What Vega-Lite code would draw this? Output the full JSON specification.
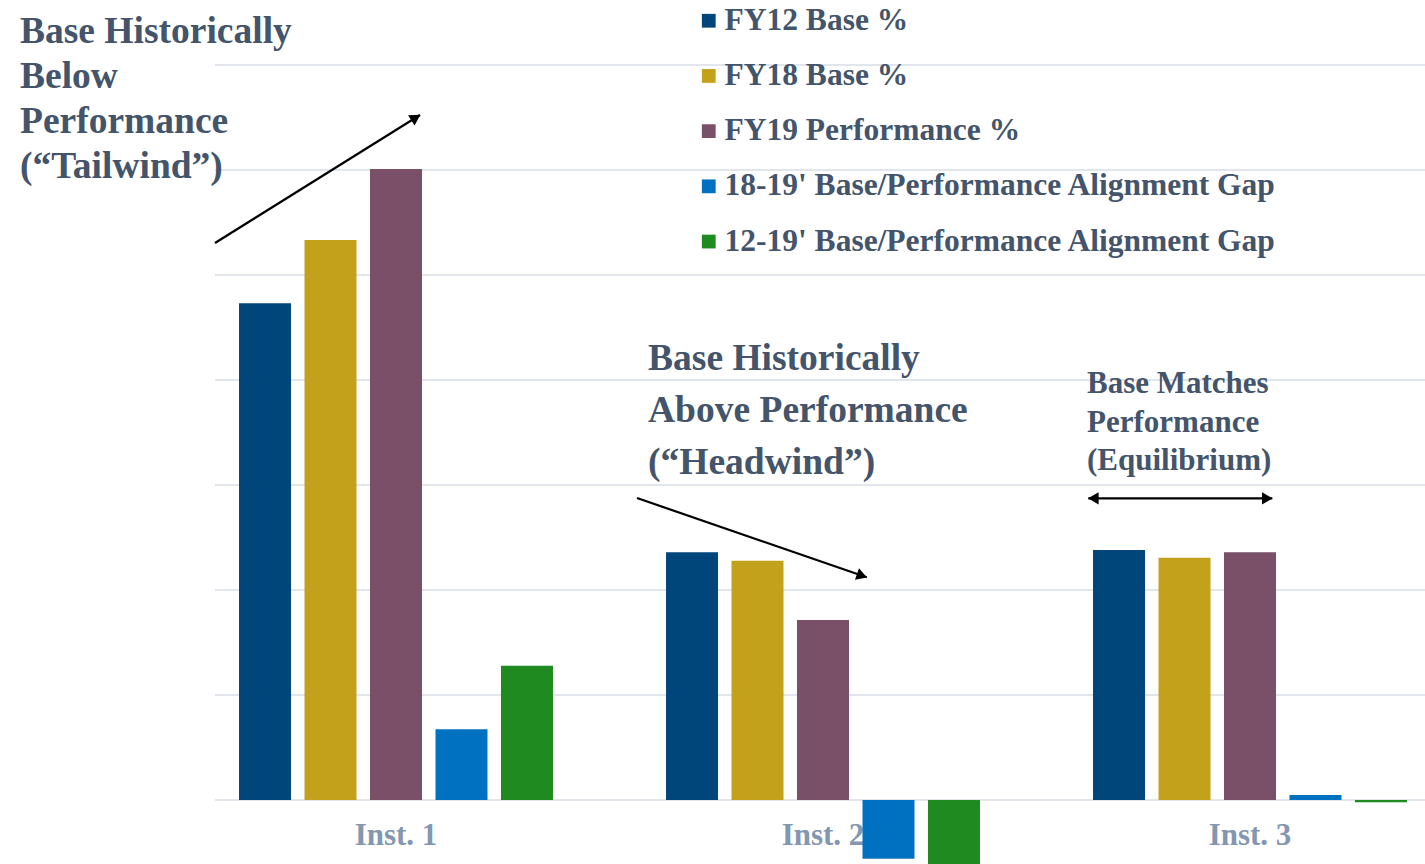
{
  "$schema": "https://vega.github.io/schema/vega-lite/v6.json",
  "width": 1210,
  "height": 864,
  "autosize": {"type": "none"},
  "padding": {"left": 215, "top": 0, "right": 0, "bottom": 0},
  "background": "white",
  "config": {
    "view": {"stroke": null},
    "font": "Liberation Serif",
    "legend": {
      "orient": "none",
      "legendX": 478,
      "legendY": 5,
      "padding": 0,
      "symbolType": "square",
      "symbolSize": 190,
      "symbolStrokeWidth": 0,
      "symbolOpacity": 1,
      "labelFont": "Liberation Serif",
      "labelFontWeight": "bold",
      "labelFontSize": 31.5,
      "labelColor": "#44546A",
      "labelOffset": 0,
      "labelLimit": 0,
      "rowPadding": 22.2,
      "title": null
    }
  },
  "datasets": {
    "bars": [
      {"inst": "Inst. 1", "series": "FY12 Base %", "value": 4.73},
      {"inst": "Inst. 1", "series": "FY18 Base %", "value": 5.333},
      {"inst": "Inst. 1", "series": "FY19 Performance %", "value": 6.01},
      {"inst": "Inst. 1", "series": "18-19' Base/Performance Alignment Gap", "value": 0.673},
      {"inst": "Inst. 1", "series": "12-19' Base/Performance Alignment Gap", "value": 1.279},
      {"inst": "Inst. 2", "series": "FY12 Base %", "value": 2.359},
      {"inst": "Inst. 2", "series": "FY18 Base %", "value": 2.279},
      {"inst": "Inst. 2", "series": "FY19 Performance %", "value": 1.714},
      {"inst": "Inst. 2", "series": "18-19' Base/Performance Alignment Gap", "value": -0.56},
      {"inst": "Inst. 2", "series": "12-19' Base/Performance Alignment Gap", "value": -0.645},
      {"inst": "Inst. 3", "series": "FY12 Base %", "value": 2.381},
      {"inst": "Inst. 3", "series": "FY18 Base %", "value": 2.308},
      {"inst": "Inst. 3", "series": "FY19 Performance %", "value": 2.359},
      {"inst": "Inst. 3", "series": "18-19' Base/Performance Alignment Gap", "value": 0.048},
      {"inst": "Inst. 3", "series": "12-19' Base/Performance Alignment Gap", "value": -0.022}
    ],
    "labels": [
      {"inst": "Inst. 1", "value": -0.343},
      {"inst": "Inst. 2", "value": -0.343},
      {"inst": "Inst. 3", "value": -0.343}
    ],
    "grid": [
      {"v": 0}, {"v": 1}, {"v": 2}, {"v": 3}, {"v": 4}, {"v": 5}, {"v": 6}, {"v": 7}
    ]
  },
  "resolve": {"scale": {"x": "independent"}},
  "layer": [
    {
      "data": {"name": "grid"},
      "mark": {"type": "rule", "color": "#E1E6EC", "strokeWidth": 2},
      "encoding": {
        "y": {"field": "v", "type": "quantitative", "axis": null, "scale": {"domain": [-0.6095, 7.619], "nice": false, "zero": false}}
      }
    },
    {
      "data": {"name": "labels"},
      "mark": {"type": "text", "fontSize": 31, "fontWeight": "bold", "font": "Liberation Serif", "color": "#8497B0", "baseline": "middle", "align": "center"},
      "encoding": {
        "x": {"field": "inst", "type": "nominal", "axis": null, "scale": {"domain": ["Inst. 1", "Inst. 2", "Inst. 3"], "range": [-32.5, 1248.5], "paddingInner": 0, "paddingOuter": 0}},
        "y": {"field": "value", "type": "quantitative", "axis": null, "scale": {"domain": [-0.6095, 7.619], "nice": false, "zero": false}},
        "text": {"field": "inst"}
      }
    },
    {
      "data": {"name": "bars"},
      "mark": {"type": "bar", "clip": true},
      "encoding": {
        "x": {"field": "inst", "type": "nominal", "axis": null, "scale": {"domain": ["Inst. 1", "Inst. 2", "Inst. 3"], "range": [-32.5, 1248.5], "paddingInner": 0, "paddingOuter": 0}},
        "xOffset": {"field": "series", "type": "nominal", "scale": {"domain": ["FY12 Base %", "FY18 Base %", "FY19 Performance %", "18-19' Base/Performance Alignment Gap", "12-19' Base/Performance Alignment Gap"], "paddingInner": 0.206, "paddingOuter": 0.863}},
        "y": {"field": "value", "type": "quantitative", "axis": null, "scale": {"domain": [-0.6095, 7.619], "nice": false, "zero": false}},
        "color": {"field": "series", "type": "nominal",
          "scale": {"domain": ["FY12 Base %", "FY18 Base %", "FY19 Performance %", "18-19' Base/Performance Alignment Gap", "12-19' Base/Performance Alignment Gap"],
                    "range": ["#00467A", "#C4A11A", "#7A5068", "#0070C0", "#1F8A1F"]},
          "legend": {"title": null}}
      }
    },
    {
      "data": {"values": [{"gx": 0.1194, "gy": 7.2095, "t": "Base Historically\nBelow\nPerformance\n(“Tailwind”)"}]},
      "mark": {"type": "text", "align": "left", "baseline": "alphabetic", "fontSize": 37.5, "fontWeight": "bold", "font": "Liberation Serif", "color": "#44546A", "lineBreak": "\n", "lineHeight": 45},
      "encoding": {
        "x": {"field": "gx", "type": "quantitative", "axis": null, "scale": {"domain": [0.5761, 3.4098], "nice": false, "zero": false}},
        "y": {"field": "gy", "type": "quantitative", "axis": null, "scale": {"domain": [-0.6095, 7.619], "nice": false, "zero": false}},
        "text": {"field": "t"}
      }
    },
    {
      "data": {"values": [{"gx": 1.5902, "gy": 4.0952, "t": "Base Historically\nAbove Performance\n(“Headwind”)"}]},
      "mark": {"type": "text", "align": "left", "baseline": "alphabetic", "fontSize": 37.5, "fontWeight": "bold", "font": "Liberation Serif", "color": "#44546A", "lineBreak": "\n", "lineHeight": 52},
      "encoding": {
        "x": {"field": "gx", "type": "quantitative", "axis": null, "scale": {"domain": [0.5761, 3.4098], "nice": false, "zero": false}},
        "y": {"field": "gy", "type": "quantitative", "axis": null, "scale": {"domain": [-0.6095, 7.619], "nice": false, "zero": false}},
        "text": {"field": "t"}
      }
    },
    {
      "data": {"values": [{"gx": 2.6183, "gy": 3.876, "t": "Base Matches\nPerformance\n(Equilibrium)"}]},
      "mark": {"type": "text", "align": "left", "baseline": "alphabetic", "fontSize": 31, "fontWeight": "bold", "font": "Liberation Serif", "color": "#44546A", "lineBreak": "\n", "lineHeight": 38.5},
      "encoding": {
        "x": {"field": "gx", "type": "quantitative", "axis": null, "scale": {"domain": [0.5761, 3.4098], "nice": false, "zero": false}},
        "y": {"field": "gy", "type": "quantitative", "axis": null, "scale": {"domain": [-0.6095, 7.619], "nice": false, "zero": false}},
        "text": {"field": "t"}
      }
    },
    {
      "data": {"values": [
        {"x1": 0.5761, "y1": 5.3048, "x2": 1.0562, "y2": 6.5238},
        {"x1": 1.5644, "y1": 2.876, "x2": 2.1023, "y2": 2.121},
        {"x1": 2.6213, "y1": 2.873, "x2": 3.0522, "y2": 2.873}
      ]},
      "mark": {"type": "rule", "color": "black", "strokeWidth": 2.2},
      "encoding": {
        "x": {"field": "x1", "type": "quantitative", "axis": null, "scale": {"domain": [0.5761, 3.4098], "nice": false, "zero": false}},
        "x2": {"field": "x2"},
        "y": {"field": "y1", "type": "quantitative", "axis": null, "scale": {"domain": [-0.6095, 7.619], "nice": false, "zero": false}},
        "y2": {"field": "y2"}
      }
    },
    {
      "data": {"values": [
        {"hx": 1.0464, "hy": 6.499, "ang": 58},
        {"hx": 2.0913, "hy": 2.136, "ang": 109},
        {"hx": 2.633, "hy": 2.873, "ang": 270},
        {"hx": 3.0405, "hy": 2.873, "ang": 90}
      ]},
      "mark": {"type": "point", "shape": "triangle-up", "filled": true, "color": "black", "opacity": 1, "size": 150},
      "encoding": {
        "x": {"field": "hx", "type": "quantitative", "axis": null, "scale": {"domain": [0.5761, 3.4098], "nice": false, "zero": false}},
        "y": {"field": "hy", "type": "quantitative", "axis": null, "scale": {"domain": [-0.6095, 7.619], "nice": false, "zero": false}},
        "angle": {"field": "ang", "type": "quantitative", "scale": null}
      }
    }
  ]
}
